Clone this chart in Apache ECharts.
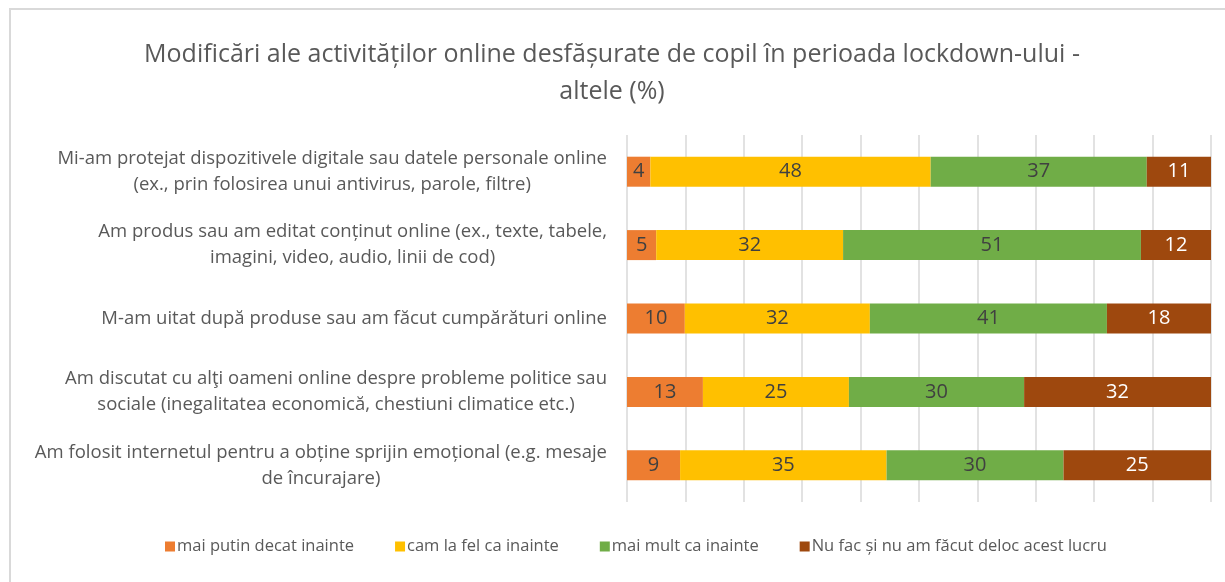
<!DOCTYPE html>
<html>
<head>
<meta charset="utf-8">
<script src="https://cdn.jsdelivr.net/npm/echarts@6/dist/echarts.min.js"></script>
<style>
  html, body { margin: 0; padding: 0; background: #fff; }
  #chart { width: 1225px; height: 582px; }
</style>
</head>
<body>
<div id="chart"></div>
<script>
const categories = [
  "Mi-am protejat dispozitivele digitale sau datele personale online\n(ex., prin folosirea unui antivirus, parole, filtre)",
  "Am produs sau am editat conținut online (ex., texte, tabele,\nimagini, video, audio, linii de cod)",
  "M-am uitat după produse sau am făcut cumpărături online",
  "Am discutat cu alţi oameni online despre probleme politice sau\nsociale (inegalitatea economică, chestiuni climatice etc.)",
  "Am folosit internetul pentru a obține sprijin emoțional (e.g. mesaje\nde încurajare)"
];
const seriesNames = [
  "mai putin decat inainte",
  "cam la fel ca inainte",
  "mai mult ca inainte",
  "Nu fac și nu am făcut deloc acest lucru"
];
const lessValues = [4, 5, 10, 13, 9];
const sameValues = [48, 32, 32, 25, 35];
const moreValues = [37, 51, 41, 30, 30];
const neverValues = [11, 12, 18, 32, 25];
const colors = ["#ED7D31", "#FFC000", "#70AD47", "#9E480E"];
const labelColors = ["#404040", "#404040", "#404040", "#ffffff"];

const allValues = [lessValues, sameValues, moreValues, neverValues];
// 100% stacked: normalise each row to its own total
const totals = categories.map((_, i) => allValues.reduce((s, arr) => s + arr[i], 0));

const c = echarts.init(document.getElementById("chart"));
c.setOption({
  animation: false,
  title: {
    text: "Modificări ale activităților online desfășurate de copil în perioada lockdown-ului -\naltele (%)",
    left: 607,
    textAlign: "center",
    top: 31,
    textStyle: {
      fontFamily: "Open Sans",
      fontWeight: "normal",
      fontSize: 25,
      color: "#595959",
      lineHeight: 37
    }
  },
  graphic: [{
    type: "rect",
    shape: { x: 10, y: 9, width: 1240, height: 600 },
    style: { fill: null, stroke: "#d9d9d9", lineWidth: 2 },
    silent: true
  }],
  legend: {
    bottom: 22,
    left: 160,
    itemWidth: 10,
    itemHeight: 10,
    itemGap: 41,
    icon: "rect",
    textStyle: { fontFamily: "Open Sans", fontSize: 16.5, color: "#595959", padding: [0, 0, 0, -3] },
    data: seriesNames
  },
  grid: { left: 627, right: 14, top: 135, bottom: 80 },
  xAxis: {
    type: "value",
    min: 0,
    max: 100,
    interval: 10,
    axisLabel: { show: false },
    axisLine: { show: false },
    axisTick: { show: false },
    splitLine: { lineStyle: { color: "#d9d9d9", width: 1.5 } }
  },
  yAxis: {
    type: "category",
    inverse: true,
    data: categories,
    axisLine: { show: false },
    axisTick: { show: false },
    axisLabel: {
      margin: 20,
      fontFamily: "Open Sans",
      fontSize: 18.5,
      color: "#595959",
      formatter: v => v.split("\n").map(l => "{c|" + l + "}").join("\n"),
      rich: { c: { align: "center", fontFamily: "Open Sans", fontSize: 18.5, color: "#595959", lineHeight: 26 } }
    }
  },
  series: allValues.map((arr, k) => ({
    name: seriesNames[k],
    type: "bar",
    stack: "total",
    barWidth: 30,
    itemStyle: { color: colors[k] },
    label: {
      show: true,
      position: "inside",
      fontFamily: "Open Sans",
      fontSize: 20,
      color: labelColors[k],
      formatter: p => arr[p.dataIndex]
    },
    data: arr.map((v, i) => v / totals[i] * 100)
  }))
});
window.addEventListener("resize", () => c.resize());
</script>
</body>
</html>
